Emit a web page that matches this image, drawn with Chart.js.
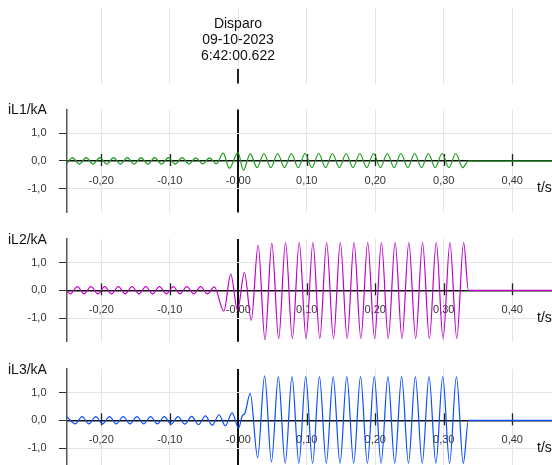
<!DOCTYPE html>
<html>
<head>
<meta charset="utf-8">
<script src="https://cdn.jsdelivr.net/npm/chart.js@4.4.0/dist/chart.umd.min.js"></script>
<style>
html, body { margin: 0; padding: 0; background: #fff; }
#wrap { position: relative; width: 552px; height: 465px; overflow: hidden; font-family: "Liberation Sans", Arial, sans-serif; }
#wrap canvas { position: absolute; left: 0; }
#trigger { position: absolute; left: 138px; width: 200px; top: 15px; text-align: center; font-size: 14px; line-height: 16px; color: #111; }
</style>
</head>
<body>
<div id="wrap">
  <canvas id="head" width="552" height="90" style="top:0"></canvas>
  <canvas id="p1" width="552" height="122" style="top:99px"></canvas>
  <canvas id="p2" width="552" height="122" style="top:228px"></canvas>
  <canvas id="p3" width="552" height="122" style="top:358px"></canvas>
  <div id="trigger"></div>
</div>
<script>
// Axis ticks and labels
const timeTicks = [-0.2, -0.1, 0, 0.1, 0.2, 0.3, 0.4];
const timeTickLabels = ['-0,20', '-0,10', '-0,00', '0,10', '0,20', '0,30', '0,40'];
const currentTicks = [-1, 0, 1];
const currentTickLabels = ['-1,0', '0,0', '1,0'];
const triggerText = ['Disparo', '09-10-2023', '6:42:00.622'];
const panelLabels = ['iL1/kA', 'iL2/kA', 'iL3/kA'];

// iL1 (peaks and troughs, s / kA)
const il1Time = [
  -0.250, -0.242, -0.232, -0.222, -0.212, -0.202, -0.192, -0.182, -0.172, -0.162,
  -0.152, -0.142, -0.132, -0.122, -0.112, -0.102, -0.092, -0.082, -0.072, -0.062,
  -0.052, -0.042, -0.032, -0.022, -0.013, -0.0005, 0.0075, 0.0175, 0.0275, 0.0375,
  0.0475, 0.0575, 0.0675, 0.0775, 0.0875, 0.0975, 0.1075, 0.1175, 0.1275, 0.1375,
  0.1475, 0.1575, 0.1675, 0.1775, 0.1875, 0.1975, 0.2075, 0.2175, 0.2275, 0.2375,
  0.2475, 0.2575, 0.2675, 0.2775, 0.2875, 0.2975, 0.3075, 0.3175, 0.3275, 0.336,
  0.458
];
const il1Value = [
  -0.08, 0.12, -0.11, 0.12, -0.11, 0.12, -0.11, 0.12, -0.11, 0.12,
  -0.11, 0.12, -0.11, 0.12, -0.11, 0.12, -0.11, 0.12, -0.11, 0.11,
  -0.10, 0.11, -0.10, 0.28, -0.26, 0.30, -0.33, 0.26, -0.24, 0.27,
  -0.24, 0.27, -0.24, 0.27, -0.24, 0.27, -0.24, 0.27, -0.24, 0.27,
  -0.24, 0.27, -0.24, 0.27, -0.24, 0.27, -0.24, 0.27, -0.24, 0.27,
  -0.24, 0.27, -0.24, 0.27, -0.24, 0.27, -0.24, 0.27, -0.24, 0,
  0
];

// iL2
const il2Time = [
  -0.250, -0.245, -0.235, -0.225, -0.215, -0.205, -0.195, -0.185, -0.175, -0.165,
  -0.155, -0.145, -0.135, -0.125, -0.115, -0.105, -0.095, -0.085, -0.075, -0.065,
  -0.055, -0.045, -0.035, -0.021, -0.011, -0.001, 0.009, 0.019, 0.029, 0.039,
  0.049, 0.059, 0.069, 0.079, 0.089, 0.099, 0.109, 0.119, 0.129, 0.139,
  0.149, 0.159, 0.169, 0.179, 0.189, 0.199, 0.209, 0.219, 0.229, 0.239,
  0.249, 0.259, 0.269, 0.279, 0.289, 0.299, 0.309, 0.319, 0.329, 0.336,
  0.458
];
const il2Value = [
  -0.04, -0.13, 0.13, -0.13, 0.13, -0.13, 0.13, -0.13, 0.13, -0.13,
  0.13, -0.13, 0.13, -0.13, 0.13, -0.13, 0.13, -0.13, 0.13, -0.13,
  0.13, -0.13, 0.12, -0.75, 0.58, -0.72, 0.65, -1.08, 1.63, -1.78,
  1.70, -1.74, 1.72, -1.74, 1.72, -1.74, 1.72, -1.74, 1.72, -1.74,
  1.72, -1.74, 1.72, -1.74, 1.72, -1.74, 1.72, -1.74, 1.72, -1.74,
  1.72, -1.74, 1.72, -1.74, 1.72, -1.74, 1.72, -1.74, 1.72, 0,
  0
];

// iL3
const il3Time = [
  -0.250, -0.238, -0.228, -0.218, -0.208, -0.198, -0.188, -0.178, -0.168, -0.158,
  -0.148, -0.138, -0.128, -0.118, -0.108, -0.098, -0.088, -0.078, -0.068, -0.058,
  -0.048, -0.038, -0.028, -0.019, -0.009, 0.0005, 0.006, 0.0095, 0.0175, 0.0283,
  0.0385, 0.0485, 0.0585, 0.0685, 0.0785, 0.0885, 0.0985, 0.1085, 0.1185, 0.1285,
  0.1385, 0.1485, 0.1585, 0.1685, 0.1785, 0.1885, 0.1985, 0.2085, 0.2185, 0.2285,
  0.2385, 0.2485, 0.2585, 0.2685, 0.2785, 0.2885, 0.2985, 0.3085, 0.3185, 0.3285,
  0.336, 0.458
];
const il3Value = [
  0.13, -0.13, 0.13, -0.13, 0.13, -0.13, 0.13, -0.13, 0.13, -0.13,
  0.13, -0.13, 0.13, -0.13, 0.13, -0.14, 0.13, -0.14, 0.14, -0.16,
  0.16, -0.18, 0.20, -0.20, 0.27, -0.28, 0.17, 0.24, 0.97, -1.35,
  1.60, -1.50, 1.57, -1.55, 1.57, -1.55, 1.57, -1.55, 1.57, -1.55,
  1.57, -1.55, 1.57, -1.55, 1.57, -1.55, 1.57, -1.55, 1.57, -1.55,
  1.57, -1.55, 1.57, -1.55, 1.57, -1.55, 1.57, -1.55, 1.57, -1.55,
  0, 0
];

const tMin = -0.25;
const tMax = 0.458;
const FONT = '"Liberation Sans", Arial, sans-serif';
const GRID = '#e4e4e4';

document.getElementById('trigger').innerHTML = triggerText.join('<br>');

// drop the half-label padding Chart.js adds at the axis ends
function noEndPadding(s) {
    s.paddingTop = 0;
    s.paddingBottom = 0;
    s.paddingLeft = 0;
    s.paddingRight = 0;
}

// Header: only the vertical grid and the trigger mark
new Chart(document.getElementById('head'), {
    type: 'line',
    data: { datasets: [] },
    options: {
        responsive: false,
        animation: false,
        layout: { padding: { left: 67, right: 0, top: 8, bottom: 6.5 } },
        plugins: { legend: { display: false }, tooltip: { enabled: false } },
        scales: {
            x: {
                type: 'linear', min: tMin, max: tMax,
                afterBuildTicks: s => { s.ticks = timeTicks.map(v => ({ value: v })); },
                afterFit: s => { s.height = 0; noEndPadding(s); },
                grid: { color: GRID, drawTicks: false },
                border: { display: false },
                ticks: { display: false }
            },
            y: { display: false, min: -1, max: 1 }
        }
    },
    plugins: [{
        id: 'triggerMark',
        afterDraw(chart) {
            const { ctx, chartArea, scales: { x } } = chart;
            const px = Math.round(x.getPixelForValue(0));
            ctx.save();
            ctx.strokeStyle = '#222';
            ctx.lineWidth = 2;
            ctx.beginPath();
            ctx.moveTo(px, chartArea.bottom - 14.5);
            ctx.lineTo(px, chartArea.bottom);
            ctx.stroke();
            ctx.restore();
        }
    }]
});

// Crossing ticks on the zero line, channel label and t/s
const panelMarks = {
    id: 'panelMarks',
    beforeDatasetsDraw(chart, args, opts) {
        const { ctx, chartArea, scales: { x, y } } = chart;
        const zero = y.getPixelForValue(0);
        ctx.save();
        ctx.strokeStyle = '#222';
        ctx.lineWidth = 1.3;
        timeTicks.forEach(v => {
            if (v === 0) return;
            const px = Math.round(x.getPixelForValue(v)) + 0.5;
            ctx.beginPath();
            ctx.moveTo(px, zero - 7);
            ctx.lineTo(px, zero + 5);
            ctx.stroke();
        });
        ctx.fillStyle = '#111';
        ctx.font = '14px ' + FONT;
        ctx.textBaseline = 'middle';
        ctx.textAlign = 'left';
        ctx.fillText(opts.label, 8, chartArea.top + 1);
        ctx.fillText('t/s', 537, zero + 27.5);
        ctx.restore();
    }
};

function makePanel(id, label, times, values, color, padTop) {
    const points = times.map((t, i) => ({ x: t, y: values[i] }));
    new Chart(document.getElementById(id), {
        type: 'line',
        data: {
            datasets: [{
                data: points,
                borderColor: color,
                borderWidth: 1.2,
                pointRadius: 0,
                fill: false,
                cubicInterpolationMode: 'monotone'
            }]
        },
        options: {
            responsive: false,
            animation: false,
            layout: { padding: { left: 0, right: 0, top: padTop, bottom: 122 - padTop - 102.8 } },
            plugins: {
                legend: { display: false },
                tooltip: { enabled: false },
                panelMarks: { label: label }
            },
            scales: {
                x: {
                    type: 'linear', min: tMin, max: tMax,
                    position: { y: 0 },
                    afterBuildTicks: s => { s.ticks = timeTicks.map(v => ({ value: v })); },
                    afterFit: noEndPadding,
                    grid: {
                        color: c => (c.tick && c.tick.value === 0) ? '#111' : GRID,
                        lineWidth: c => (c.tick && c.tick.value === 0) ? 2 : 1,
                        drawTicks: false
                    },
                    border: { display: true, color: '#111', width: 1.5 },
                    ticks: {
                        autoSkip: false, maxRotation: 0, padding: 13,
                        color: '#333', font: { family: FONT, size: 11 },
                        callback: (v, i) => timeTickLabels[i]
                    }
                },
                y: {
                    min: -1.85, max: 1.85,
                    afterBuildTicks: s => { s.ticks = currentTicks.map(v => ({ value: v })); },
                    afterFit: s => { s.width = 67; noEndPadding(s); },
                    grid: {
                        color: c => (c.tick && c.tick.value === 0) ? 'rgba(0,0,0,0)' : GRID,
                        tickColor: '#333',
                        tickLength: 8
                    },
                    border: { display: true, color: '#555', width: 1.5 },
                    ticks: {
                        padding: 12.5,
                        color: '#333', font: { family: FONT, size: 11 },
                        callback: (v, i) => currentTickLabels[i]
                    }
                }
            }
        },
        plugins: [panelMarks]
    });
}

makePanel('p1', panelLabels[0], il1Time, il1Value, '#169b16', 10.6);
makePanel('p2', panelLabels[1], il2Time, il2Value, '#c000c8', 10.9);
makePanel('p3', panelLabels[2], il3Time, il3Value, '#0a4dff', 10.9);
</script>
</body>
</html>
